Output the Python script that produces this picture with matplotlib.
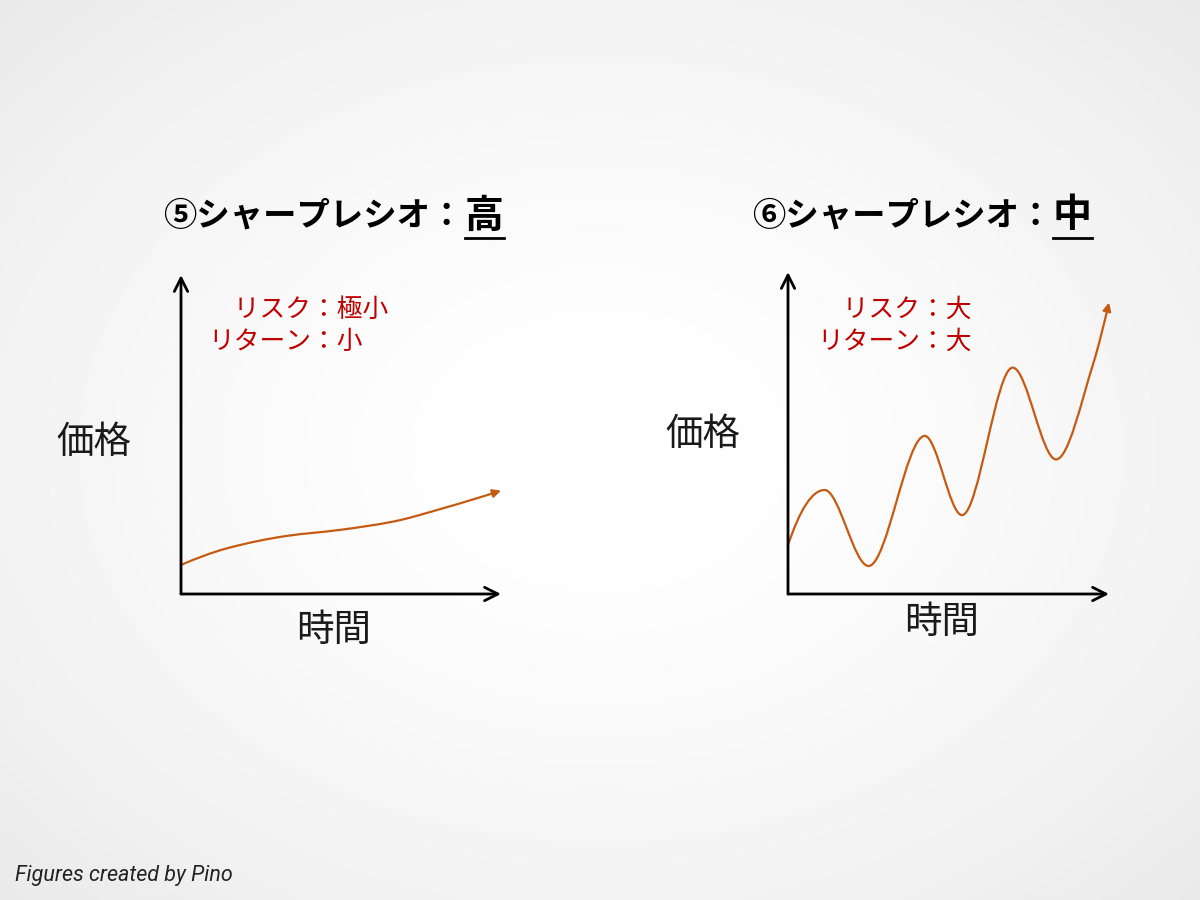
import numpy as np
import matplotlib
matplotlib.use("Agg")
import matplotlib.pyplot as plt
from matplotlib.path import Path
from matplotlib.patches import FancyArrowPatch
from matplotlib.lines import Line2D

plt.rcParams['font.family'] = ['Noto Sans CJK JP', 'DejaVu Sans']

# ---------------- data ----------------
titles_main = ["⑤シャープレシオ：", "⑥シャープレシオ："]
titles_level = ["高", "中"]
risk_labels = ["\u3000リスク：極小", "\u3000リスク：大"]
return_labels = ["リターン：小", "リターン：大"]
y_label = "価格"
x_label = "時間"
footer = "Figures created by Pino"

# curve 5 (high Sharpe): time, price
time_5 = [0.0, 1.43, 3.30, 4.97, 6.63, 8.20, 10.0]
price_5 = [0.91, 1.43, 1.82, 2.01, 2.27, 2.69, 3.24]

# curve 6 (medium Sharpe): time, price
time_6 = [0.0, 1.14, 2.51, 4.26, 5.42, 7.00, 8.35, 9.51, 10.0]
price_6 = [1.52, 3.23, 0.87, 4.91, 2.45, 7.03, 4.18, 7.16, 9.05]

CURVE_COLOR = "#C55A11"
TEXT_RED = "#C00000"

W, H = 1200, 900
fig = plt.figure(figsize=(12, 9), dpi=100)


def P(x, y):
    return (x / W, 1 - y / H)


# background radial gradient
bg = fig.add_axes([0, 0, 1, 1])
yy, xx = np.mgrid[0:H:2, 0:W:2]
r = np.sqrt(((xx - W / 2) / (W / 2)) ** 2 + ((yy - H / 2) / (H / 2)) ** 2) / np.sqrt(2)
shade = 1.0 - 0.085 * np.clip(r, 0, 1) ** 1.6
bg.imshow(shade, cmap="gray", vmin=0, vmax=1, extent=[0, 1, 0, 1],
          aspect="auto", interpolation="bilinear")
bg.set_xlim(0, 1)
bg.set_ylim(0, 1)
bg.axis("off")


def _end_slope(h0, h1, d0, d1):
    m = ((2 * h0 + h1) * d0 - h0 * d1) / (h0 + h1)
    if np.sign(m) != np.sign(d0):
        m = 0.0
    elif np.sign(d0) != np.sign(d1) and abs(m) > abs(3 * d0):
        m = 3 * d0
    return m


def smooth_path(xs, ys):
    """Monotone (PCHIP) cubic Hermite rendered as Bezier segments."""
    x = np.asarray(xs, float)
    y = np.asarray(ys, float)
    n = len(x)
    h = np.diff(x)
    d = np.diff(y) / h
    m = np.zeros(n)
    for k in range(1, n - 1):
        if d[k - 1] * d[k] <= 0:
            m[k] = 0.0
        else:
            w1 = 2 * h[k] + h[k - 1]
            w2 = h[k] + 2 * h[k - 1]
            m[k] = (w1 + w2) / (w1 / d[k - 1] + w2 / d[k])
    m[0] = _end_slope(h[0], h[1], d[0], d[1])
    m[-1] = _end_slope(h[-1], h[-2], d[-1], d[-2])
    verts = [(x[0], y[0])]
    codes = [Path.MOVETO]
    for k in range(n - 1):
        dx = h[k] / 3.0
        verts += [(x[k] + dx, y[k] + m[k] * dx),
                  (x[k + 1] - dx, y[k + 1] - m[k + 1] * dx),
                  (x[k + 1], y[k + 1])]
        codes += [Path.CURVE4] * 3
    return Path(np.array(verts), codes)


panels = [
    dict(box=(181, 275, 501, 594), times=time_5, prices=price_5,
         title_x=163, level_x=465, title_y=216, red_x=208,
         ylab=(94, 442), xlab=(334, 630)),
    dict(box=(788, 272, 1109, 594), times=time_6, prices=price_6,
         title_x=752, level_x=1053, title_y=216, red_x=817,
         ylab=(703, 434), xlab=(942, 622)),
]

for i, pn in enumerate(panels):
    x0, y0, x1, y1 = pn["box"]
    ax = fig.add_axes([x0 / W, 1 - y1 / H, (x1 - x0) / W, (y1 - y0) / H])
    ax.set_xlim(0, 10)
    ax.set_ylim(0, 10)
    ax.patch.set_alpha(0)
    ax.axis("off")
    # axis arrows
    for tip in [(1, 0), (0, 1)]:
        ax.annotate("", xy=tip, xytext=(0, 0), xycoords="axes fraction",
                    arrowprops=dict(arrowstyle="->", lw=2.0, color="black",
                                    mutation_scale=24, shrinkA=0, shrinkB=0),
                    annotation_clip=False)
    # curve
    path = smooth_path(pn["times"], pn["prices"])
    arr = FancyArrowPatch(path=path, arrowstyle="-|>", mutation_scale=12,
                          color=CURVE_COLOR, lw=1.6, clip_on=False)
    ax.add_patch(arr)

    # titles
    fig.text(*P(pn["title_x"], pn["title_y"]), titles_main[i], fontsize=24,
             fontweight="bold", ha="left", va="center", color="black")
    fig.text(*P(pn["level_x"], pn["title_y"]), titles_level[i], fontsize=28,
             fontweight="bold", ha="left", va="center", color="black")
    lx0, ly = P(pn["level_x"], 238)
    lx1, _ = P(pn["level_x"] + 39, 238)
    fig.add_artist(Line2D([lx0, lx1], [ly, ly], color="black", lw=2.0,
                          transform=fig.transFigure))

    # red annotations
    fig.text(*P(pn["red_x"], 310), risk_labels[i], fontsize=18.5,
             color=TEXT_RED, ha="left", va="center")
    fig.text(*P(pn["red_x"], 342), return_labels[i], fontsize=18.5,
             color=TEXT_RED, ha="left", va="center")

    # axis labels
    fig.text(*P(*pn["ylab"]), y_label, fontsize=27, ha="center", va="center",
             color="#1a1a1a")
    fig.text(*P(*pn["xlab"]), x_label, fontsize=27, ha="center", va="center",
             color="#1a1a1a")

fig.text(*P(15, 875), footer, fontsize=15.5, family="Roboto", style="italic",
         ha="left", va="center", color="#222222")

fig.savefig("out.png", dpi=100)
